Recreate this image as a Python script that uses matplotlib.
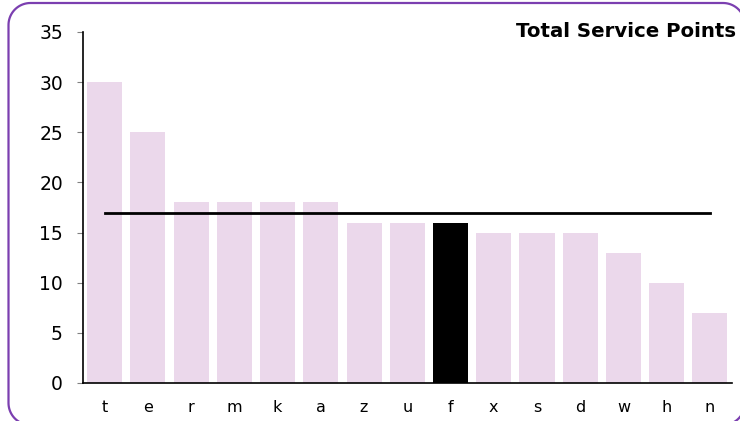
import numpy as np
import matplotlib.pyplot as plt
from matplotlib.path import Path
from matplotlib.patches import PathPatch

# values
labels = ['t', 'e', 'r', 'm', 'k', 'a', 'z', 'u', 'f', 'x', 's', 'd', 'w', 'h', 'n']
points = [30, 25, 18, 18, 18, 18, 16, 16, 16, 15, 15, 15, 13, 10, 7]
highlight = 'f'
average = 17

bar_col = '#ebd8eb'
hi_col = '#000000'
frame_col = '#7b3fb0'

fig = plt.figure(figsize=(7.4, 4.21), dpi=100)
ax = fig.add_axes([0.1122, 0.0903, 0.8764, 0.8337])

cols = [hi_col if l == highlight else bar_col for l in labels]
ax.bar(range(len(labels)), points, width=0.81, color=cols, zorder=2)
ax.plot([0, len(labels) - 1], [average, average], color='black', lw=2, zorder=3)

ax.set_xlim(-0.5, len(labels) - 0.5)
ax.set_ylim(0, 35)
ax.set_yticks(range(0, 36, 5))
ax.set_xticks(range(len(labels)))
ax.set_xticklabels(labels)

for s in ['top', 'right']:
    ax.spines[s].set_visible(False)
for s in ['left', 'bottom']:
    ax.spines[s].set_linewidth(1.2)
ax.tick_params(axis='y', length=4.5, color='#808080', pad=10, labelsize=13.5)
ax.tick_params(axis='x', length=0, pad=12, labelsize=11.5)

fig.text(0.9946, 0.948, 'Total Service Points', ha='right', va='top',
         fontsize=14.2, fontweight='bold')


# rounded purple frame round the whole chart, drawn in pixel units
def rounded_rect(x0, y0, x1, y1, r):
    t = np.linspace(0, np.pi / 2, 20)
    pts = []
    for cx, cy, a0 in [(x1 - r, y1 - r, 0), (x0 + r, y1 - r, np.pi / 2),
                       (x0 + r, y0 + r, np.pi), (x1 - r, y0 + r, 1.5 * np.pi)]:
        pts += list(zip(cx + r * np.cos(a0 + t), cy + r * np.sin(a0 + t)))
    pts.append(pts[0])
    return Path(pts)


bg = fig.add_axes([0, 0, 1, 1], zorder=-1)
bg.set_xlim(0, 740)
bg.set_ylim(0, 421)
bg.axis('off')
bg.add_patch(PathPatch(rounded_rect(8.5, -4, 745, 418, 22), fill=False,
                       edgecolor=frame_col, lw=1.6, clip_on=False))

fig.savefig('out.png', dpi=100)
